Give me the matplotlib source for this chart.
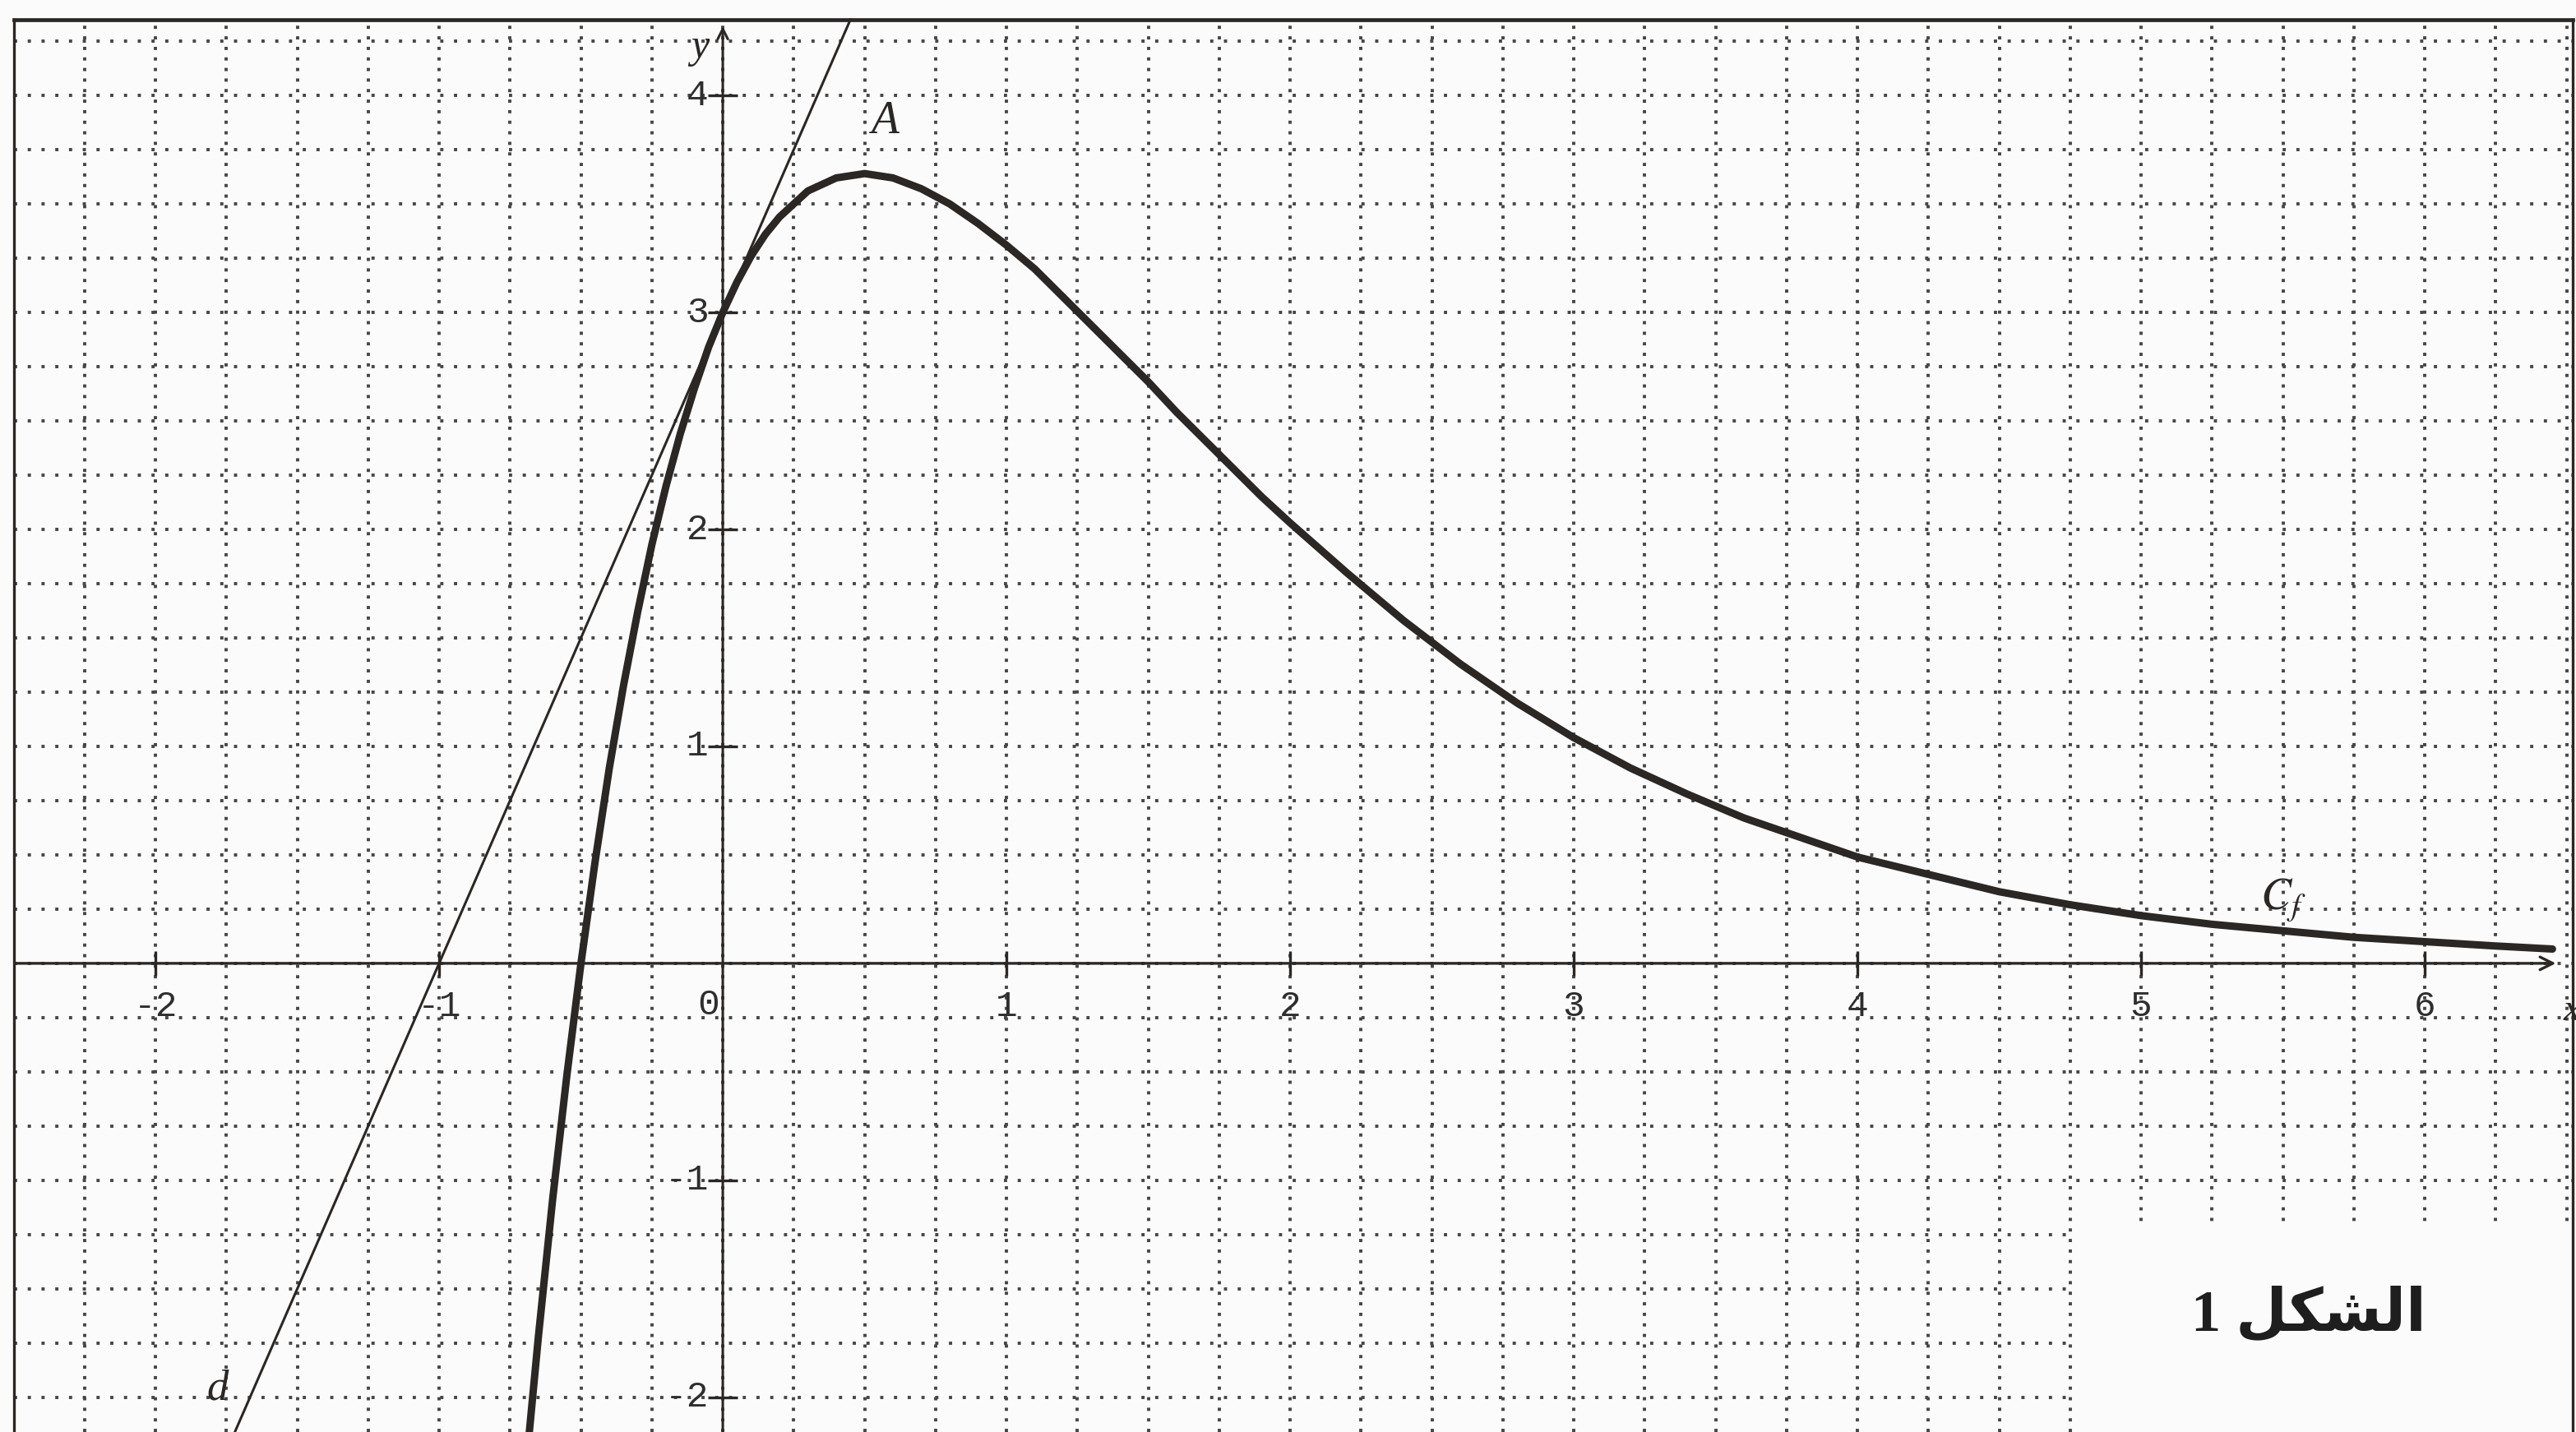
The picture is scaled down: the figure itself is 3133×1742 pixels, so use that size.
import numpy as np
import matplotlib
matplotlib.use('Agg')
import matplotlib.pyplot as plt
from matplotlib.patches import Rectangle


# ==================== DATA ====================
# curve C_f
curve_x = [-0.69, -0.65, -0.60, -0.55, -0.50, -0.45, -0.40, -0.35, -0.30, -0.25,
           -0.20, -0.15, -0.10, -0.05, 0.00, 0.05, 0.10, 0.15, 0.20, 0.25,
           0.30, 0.35, 0.40, 0.45, 0.50, 0.55, 0.60, 0.70, 0.80, 0.90,
           1.00, 1.10, 1.20, 1.30, 1.40, 1.50, 1.60, 1.70, 1.80, 1.90,
           2.00, 2.20, 2.40, 2.60, 2.80, 3.00, 3.20, 3.40, 3.60, 3.80,
           4.00, 4.25, 4.50, 4.75, 5.00, 5.25, 5.50, 5.75, 6.00, 6.25, 6.45]
curve_y = [-2.27, -1.72, -1.09, -0.52, 0.00, 0.47, 0.90, 1.28, 1.62, 1.93,
           2.20, 2.44, 2.65, 2.84, 3.00, 3.14, 3.26, 3.36, 3.44, 3.50,
           3.56, 3.59, 3.62, 3.63, 3.64, 3.63, 3.62, 3.57, 3.50, 3.41,
           3.31, 3.20, 3.07, 2.94, 2.81, 2.68, 2.54, 2.41, 2.28, 2.15,
           2.03, 1.80, 1.58, 1.38, 1.20, 1.04, 0.90, 0.78, 0.67, 0.58,
           0.49, 0.41, 0.33, 0.27, 0.22, 0.18, 0.15, 0.12, 0.10, 0.08, 0.066]

# tangent line d
d_x = [-1.75, 0.45]
d_y = [-2.25, 4.35]

# axis ticks
x_ticks = [-2, -1, 1, 2, 3, 4, 5, 6]
x_tick_labels = ['-2', '-1', '1', '2', '3', '4', '5', '6']
y_ticks = [-2, -1, 1, 2, 3, 4]
y_tick_labels = ['-2', '-1', '1', '2', '3', '4']

# ==================== STYLE ====================
ink = '#2a2725'
grid_col = '#464646'
paper = '#fbfbfb'
x_min, x_max = -2.548, 6.533
y_min, y_max = -2.16, 4.44
frame_left, frame_right, frame_top = -2.50, 6.52, 4.35

fig = plt.figure(figsize=(31.33, 17.42), dpi=100)
fig.patch.set_facecolor(paper)
ax = fig.add_axes([0, 0, 1, 1])
ax.set_facecolor(paper)
ax.set_xlim(x_min, x_max)
ax.set_ylim(y_min, y_max)
ax.axis('off')

# dotted grid, step 0.25
for gx in np.arange(-2.25, 6.51, 0.25):
    ax.plot([gx, gx], [y_min, frame_top], color=grid_col, lw=2.8,
            linestyle=(0, (1, 2.3)), zorder=1)
for gy in np.arange(-2.0, 4.26, 0.25):
    ax.plot([frame_left, frame_right], [gy, gy], color=grid_col, lw=2.8,
            linestyle=(0, (1, 3.3)), zorder=1)

# blank box around the figure caption
ax.add_patch(Rectangle((4.77, y_min - 0.1), frame_right - 4.77, -1.22 - y_min + 0.1,
                       facecolor=paper, edgecolor='none', zorder=2))

# frame
ax.plot([frame_left, frame_right], [frame_top, frame_top], color=ink, lw=3.4, zorder=3)
ax.plot([frame_left, frame_left], [y_min - 0.1, frame_top], color=ink, lw=2.4, zorder=3)
ax.plot([frame_right, frame_right], [y_min - 0.1, frame_top], color=ink, lw=2.4, zorder=3)

# axes with arrows
ax.annotate('', xy=(6.47, 0), xytext=(frame_left, 0),
            arrowprops=dict(arrowstyle='->', lw=2.4, color=ink, mutation_scale=28),
            zorder=4)
ax.annotate('', xy=(0, frame_top - 0.02), xytext=(0, y_min - 0.1),
            arrowprops=dict(arrowstyle='->', lw=2.2, color=ink, mutation_scale=22),
            zorder=4)

# tick marks crossing the axes
ax.plot(x_ticks, [0] * len(x_ticks), linestyle='none', marker='|',
        ms=22, mew=2.4, color=ink, zorder=4)
ax.plot([0] * len(y_ticks), y_ticks, linestyle='none', marker='_',
        ms=26, mew=2.4, color=ink, zorder=4)

tick_font = dict(family='Liberation Mono', fontsize=32, color='#2e2e2e', zorder=5)
for tx, lab in zip(x_ticks, x_tick_labels):
    ax.text(tx, -0.2, lab, ha='center', va='center', **tick_font)
for ty, lab in zip(y_ticks, y_tick_labels):
    ax.text(-0.05, ty, lab, ha='right', va='center', **tick_font)
ax.text(-0.05, -0.19, '0', ha='center', va='center', **tick_font)

# tangent d and curve C_f
ax.plot(d_x, d_y, color=ink, lw=2.2, zorder=5)
ax.plot(curve_x, curve_y, color=ink, lw=6.5, solid_capstyle='round',
        solid_joinstyle='round', zorder=6)

# labels
lab_font = dict(family='Liberation Serif', style='italic', color=ink, zorder=7)
ax.text(0.57, 3.88, 'A', ha='center', va='center', fontsize=40, **lab_font)
ax.text(-0.08, 4.22, 'y', ha='center', va='center', fontsize=36, **lab_font)
ax.text(-1.78, -1.96, 'd', ha='center', va='center', fontsize=38, **lab_font)
ax.text(6.52, -0.22, 'x', ha='center', va='center', fontsize=34, **lab_font)
plt.rcParams['mathtext.fontset'] = 'stix'
ax.text(5.5, 0.29, r'$C_f$', ha='center', va='center', fontsize=40,
        color=ink, zorder=7)

# caption "الشكل 1" (glyphs given in visual order)
ax.text(5.59, -1.62, '1 \uFEDE\uFEDC\uFEB8\uFEDF\uFE8D', ha='center', va='center',
        fontsize=52, fontweight='bold', family=['Liberation Serif', 'DejaVu Sans'],
        color='#1e1e1e', zorder=7)

fig.savefig('out.png', dpi=100, facecolor=fig.get_facecolor())
